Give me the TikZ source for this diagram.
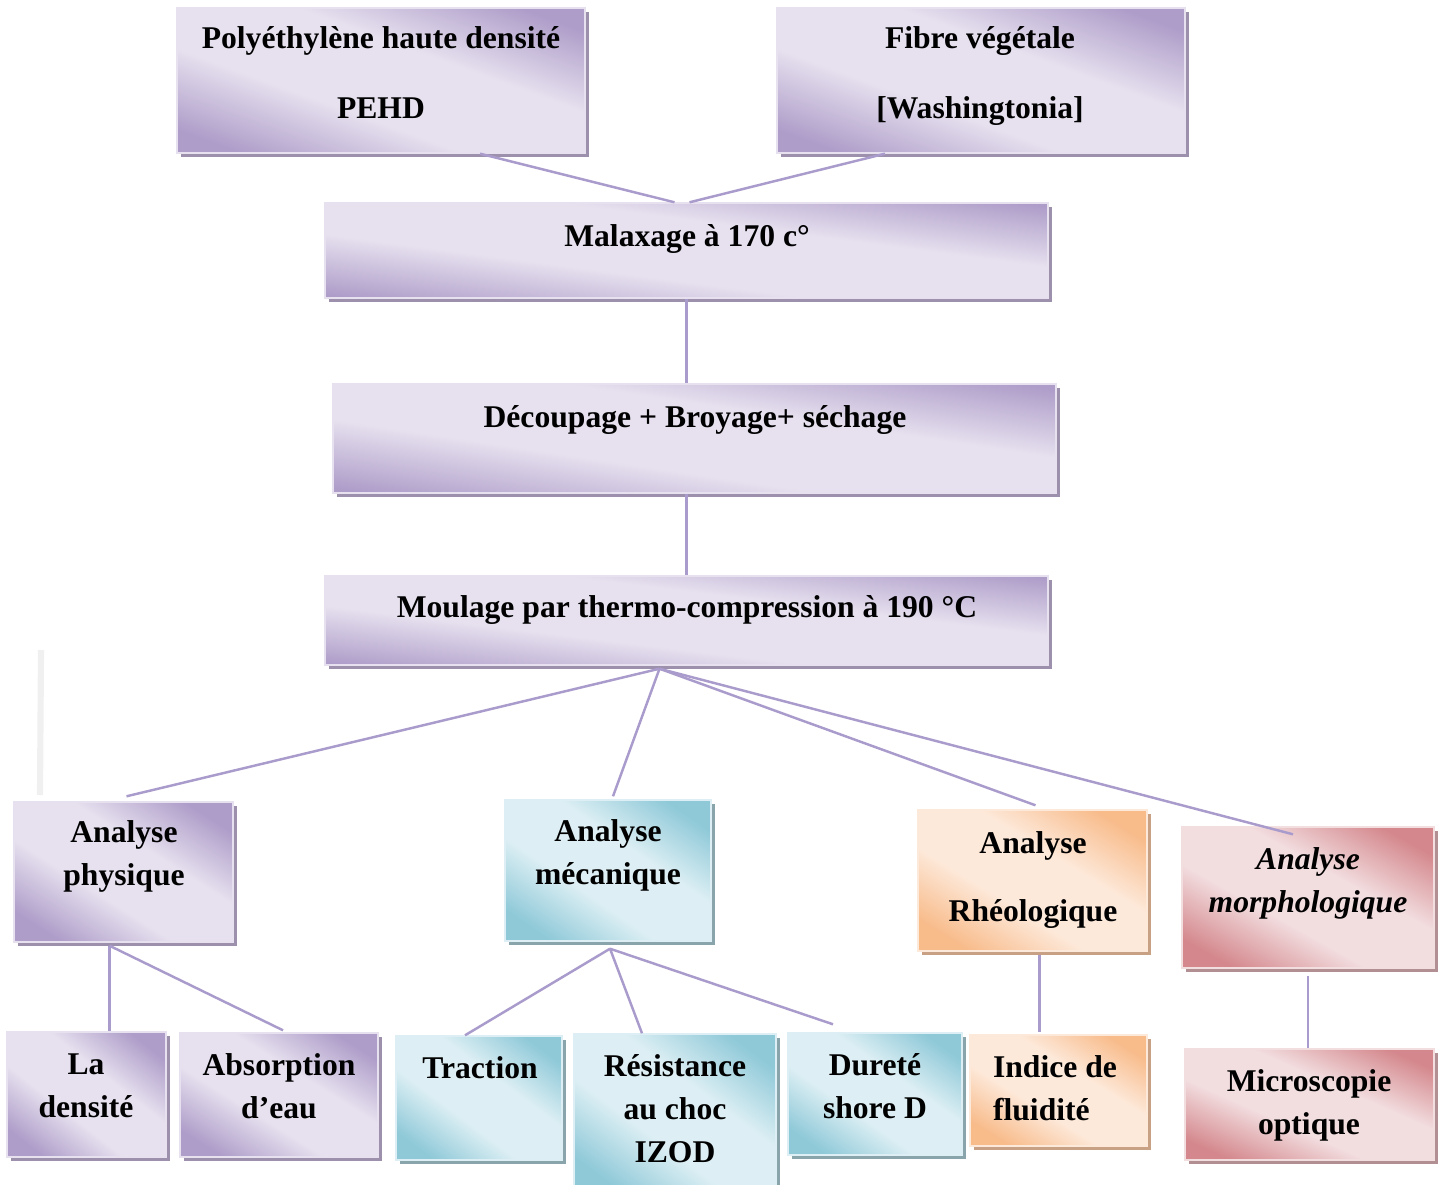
\documentclass[tikz,border=0pt]{standalone}
\usepackage{fontspec}
\setmainfont{Liberation Serif}
\usetikzlibrary{fit,shadows,calc}
\definecolor{violetA}{HTML}{AE9DC9}
\definecolor{violetB}{HTML}{E7E1EF}
\definecolor{violetC}{HTML}{9C90AC}
\definecolor{bleuA}{HTML}{8FC9D8}
\definecolor{bleuB}{HTML}{DDEFF4}
\definecolor{bleuC}{HTML}{89A4AB}
\definecolor{orangeA}{HTML}{F8BB8A}
\definecolor{orangeB}{HTML}{FDE9DA}
\definecolor{orangeC}{HTML}{C8A084}
\definecolor{rougeA}{HTML}{D4888D}
\definecolor{rougeB}{HTML}{F2DDDF}
\definecolor{rougeC}{HTML}{B28F92}
\definecolor{lienc}{HTML}{A99BCB}
\colorlet{boiteA}{violetA}
\colorlet{boiteB}{violetB}
\pgfdeclareverticalshading[boiteA,boiteB]{boiteombre}{100bp}{color(0bp)=(boiteA); color(23bp)=(boiteA); color(41bp)=(boiteB); color(59bp)=(boiteB); color(77bp)=(boiteA); color(100bp)=(boiteA)}
\begin{document}
\begin{tikzpicture}[x=0.02cm,y=-0.02cm,
  boite/.style n args={3}{rectangle, inner sep=0pt, draw=#2, line width=0.8pt,
    /utils/exec={\colorlet{boiteA}{#1}\colorlet{boiteB}{#2}}, shade, shading=boiteombre,
    drop shadow={shadow xshift=2.5pt, shadow yshift=-2.5pt, opacity=1, fill=#3}},
  pboite/.style={boite={violetA}{violetB}{violetC}},
  bboite/.style={boite={bleuA}{bleuB}{bleuC}},
  oboite/.style={boite={orangeA}{orangeB}{orangeC}},
  rboite/.style={boite={rougeA}{rougeB}{rougeC}},
  txt/.style={font=\bfseries\fontsize{18}{24.5}\selectfont, align=center, inner sep=0pt},
  lien/.style={draw=lienc, line width=1.4pt}]
\useasboundingbox (0,0) rectangle (1443,1185);

\draw[line width=3.5pt, black!6] (41,650) -- (40,795);

\node[pboite, shading angle=-20, fit={(177,8) (585,153)}] (pehd) {};
\node[pboite, shading angle=-20, fit={(777,8) (1185,153)}] (fibre) {};
\node[pboite, shading angle=-7.5, fit={(325,203) (1048,298)}] (malax) {};
\node[pboite, shading angle=-8.6, fit={(333,384) (1056,493)}] (decoup) {};
\node[pboite, shading angle=-7, fit={(325,576) (1048,665)}] (moul) {};

\node[pboite, shading angle=-32.6, fit={(14,802) (233,942)}] (phys) {};
\node[bboite, shading angle=-34.4, fit={(505,800) (711,941)}] (meca) {};
\node[oboite, shading angle=-31.6, fit={(918,810) (1147,951)}] (rheo) {};
\node[rboite, shading angle=-29.2, fit={(1182,827) (1434,968)}] (morph) {};

\node[pboite, shading angle=-38.2, fit={(7,1032) (166,1157)}] (dens) {};
\node[pboite, shading angle=-32, fit={(180,1033) (378,1157)}] (abs) {};
\node[bboite, shading angle=-36.8, fit={(396,1036) (562,1160)}] (trac) {};
\node[bboite, shading angle=-36.8, fit={(574,1034) (776,1192)}] (res) {};
\node[bboite, shading angle=-35, fit={(788,1033) (962,1155)}] (dur) {};
\node[oboite, shading angle=-32, fit={(970,1035) (1147,1146)}] (ind) {};
\node[rboite, shading angle=-24, fit={(1185,1049) (1434,1160)}] (micro) {};

\node[txt] (t-pehd) at (381,73) {Polyéthylène haute densité\\[15.3pt]PEHD};
\node[txt] (t-fibre) at (980,76) {Fibre végétale\\[15.3pt]{[}Washingtonia{]}};
\node[txt] (t-malax) at (687,239) {Malaxage à 170 c°};
\node[txt] (t-decoup) at (695,420) {Découpage + Broyage+ séchage};
\node[txt] (t-moul) at (687,610) {Moulage par thermo-compression à 190 °C};
\node[txt] (t-phys) at (124,856) {Analyse\\physique};
\node[txt] (t-meca) at (608,855) {Analyse\\mécanique};
\node[txt] (t-rheo) at (1033,880) {Analyse\\[14.2pt]Rhéologique};
\node[txt, font=\bfseries\itshape\fontsize{18}{24.5}\selectfont] (t-morph) at (1308,883) {Analyse\\morphologique};
\node[txt] (t-dens) at (86,1086) {La\\densité};
\node[txt] (t-abs) at (279,1086) {Absorption\\d’eau};
\node[txt] (t-trac) at (480,1068) {Traction};
\node[txt] (t-res) at (675,1109) {Résistance\\au choc\\IZOD};
\node[txt] (t-dur) at (875,1086) {Dureté\\shore D};
\node[txt, align=left] (t-ind) at (1055,1088) {Indice de\\fluidité};
\node[txt] (t-micro) at (1309,1105) {Microscopie\\optique};

\coordinate (hub) at ($(moul.south)+(-27,3)$);
\coordinate (physb) at ($(phys.south)+(-14,3)$);
\coordinate (mecab) at ($(meca.south)+(2,7)$);

\draw[lien] ($(pehd.south)+(99,0)$) -- ($(malax.north)+(-12,0)$);
\draw[lien] ($(fibre.south)+(-96,0)$) -- ($(malax.north)+(3,0)$);
\draw[lien] (malax.south) -- (malax.south |- decoup.north);
\draw[lien] (malax.south |- decoup.south) -- (malax.south |- moul.north);
\draw[lien] (hub) -- ($(phys.north)+(3,-5)$);
\draw[lien] (hub) -- ($(meca.north)+(5,-3)$);
\draw[lien] (hub) -- ($(rheo.north)+(3,-4)$);
\draw[lien] (hub) -- ($(morph.north)+(-15,8)$);
\draw[lien] (physb) -- (physb |- dens.north);
\draw[lien] (physb) -- ($(abs.north)+(4,-2)$);
\draw[lien] (mecab) -- ($(trac.north)+(-14,0)$);
\draw[lien] (mecab) -- ($(res.north)+(-33,0)$);
\draw[lien] (mecab) -- ($(dur.north)+(-42,-8)$);
\draw[lien] ($(rheo.south)+(7,3)$) -- ($(rheo.south)+(7,80)$);
\draw[lien] ($(morph.south)+(0,7)$) -- (morph.south |- micro.north);
\end{tikzpicture}
\end{document}
